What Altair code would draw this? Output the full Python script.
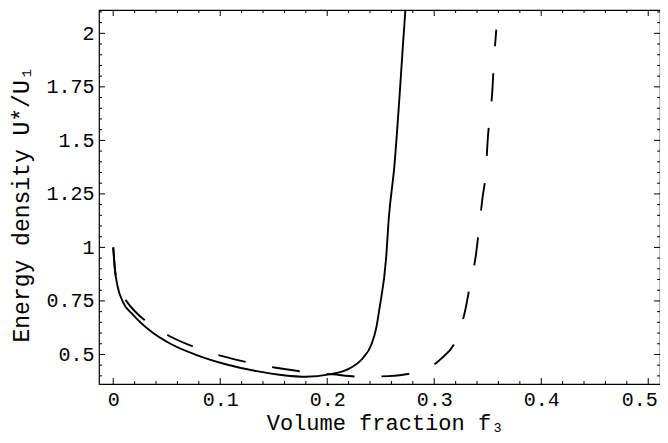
import altair as alt
import pandas as pd

# Solid curve (volume fraction f3, energy density U*/U1)
f_solid = [0.0, 0.0015, 0.004, 0.009, 0.019, 0.034, 0.053, 0.078, 0.106, 0.134,
           0.159, 0.180, 0.202, 0.221, 0.233, 0.241, 0.2457, 0.2488, 0.255, 0.2575,
           0.2628, 0.2674, 0.2705, 0.273, 0.2745]
u_solid = [1.0, 0.90, 0.82, 0.746, 0.683, 0.613, 0.551, 0.497, 0.453, 0.422,
           0.403, 0.396, 0.407, 0.435, 0.481, 0.543, 0.621, 0.714, 0.948, 1.134,
           1.383, 1.693, 1.927, 2.11, 2.25]

# Dashed curve
f_dash = [0.0, 0.002, 0.006, 0.0125, 0.0312, 0.0529, 0.0778, 0.102, 0.128, 0.152,
          0.179, 0.205, 0.232, 0.2575, 0.2836, 0.306, 0.322, 0.329, 0.334, 0.339,
          0.342, 0.345, 0.3483, 0.3498, 0.3545, 0.356, 0.358]
u_dash = [1.0, 0.88, 0.80, 0.748, 0.652, 0.585, 0.531, 0.492, 0.461, 0.438,
          0.419, 0.407, 0.396, 0.399, 0.419, 0.478, 0.587, 0.707, 0.839, 0.966,
          1.095, 1.227, 1.359, 1.488, 1.748, 1.883, 2.017]

x_major = [0.0, 0.1, 0.2, 0.3, 0.4, 0.5]
x_minor = [0.02, 0.04, 0.06, 0.08, 0.12, 0.14, 0.16, 0.18, 0.22, 0.24, 0.26, 0.28,
           0.32, 0.34, 0.36, 0.38, 0.42, 0.44, 0.46, 0.48]
y_major = [0.5, 0.75, 1.0, 1.25, 1.5, 1.75, 2.0]
y_minor = [0.4, 0.45, 0.55, 0.6, 0.65, 0.7, 0.8, 0.85, 0.9, 0.95, 1.05, 1.1, 1.15,
           1.2, 1.3, 1.35, 1.4, 1.45, 1.55, 1.6, 1.65, 1.7, 1.8, 1.85, 1.9, 1.95,
           2.05, 2.1]

W, H = 561, 374
FONT = "Liberation Mono"

xscale = alt.Scale(domain=[-0.0133, 0.511], nice=False, zero=False)
yscale = alt.Scale(domain=[0.362, 2.109], nice=False, zero=False)

xaxis = alt.Axis(values=x_major, format=".1~f", grid=False, domain=False, ticks=False,
                 labelFont=FONT, labelFontSize=20, labelColor="black", labelPadding=5,
                 labelFlush=12, labelFlushOffset=9, labelOverlap=False,
                 title="Volume fraction f₃", titleFont=FONT, titleFontSize=22,
                 titleFontWeight="normal", titleColor="black",
                 titleX=286, titleY=45, titleBaseline="alphabetic", titleAlign="center")
yaxis = alt.Axis(values=y_major, format=".2~f", grid=False, domain=False, ticks=False,
                 labelFont=FONT, labelFontSize=20, labelColor="black", labelPadding=5,
                 labelFlush=False, labelOverlap=False,
                 title="Energy density U*/U₁", titleFont=FONT, titleFontSize=23,
                 titleFontWeight="normal", titleColor="black",
                 titleAngle=270, titleX=-71, titleY=194, titleBaseline="alphabetic",
                 titleAlign="center")

solid_df = pd.DataFrame({"f": f_solid, "U": u_solid, "order": range(len(f_solid))})
dash_df = pd.DataFrame({"f": f_dash, "U": u_dash, "order": range(len(f_dash))})

X = alt.X("f:Q", scale=xscale, axis=xaxis)
Y = alt.Y("U:Q", scale=yscale, axis=yaxis)

solid = alt.Chart(solid_df).mark_line(color="black", strokeWidth=1.9, clip=True,
                                      interpolate="monotone").encode(x=X, y=Y, order="order:Q")
dashed = alt.Chart(dash_df).mark_line(color="black", strokeWidth=1.9, clip=True,
                                      interpolate="monotone", strokeDash=[28, 27]).encode(
    x=X, y=Y, order="order:Q")

layers = [solid, dashed]


def xticks(vals, length):
    df = pd.DataFrame({"f": vals})
    bottom = alt.Chart(df).mark_rule(color="black", strokeWidth=1).encode(
        x=X, y=alt.value(H), y2=alt.value(H - length))
    top = alt.Chart(df).mark_rule(color="black", strokeWidth=1).encode(
        x=X, y=alt.value(0), y2=alt.value(length))
    return [bottom, top]


def yticks(vals, length):
    df = pd.DataFrame({"U": vals})
    left = alt.Chart(df).mark_rule(color="black", strokeWidth=1).encode(
        y=Y, x=alt.value(0), x2=alt.value(length))
    right = alt.Chart(df).mark_rule(color="black", strokeWidth=1).encode(
        y=Y, x=alt.value(W), x2=alt.value(W - length))
    return [left, right]


layers += xticks(x_major, 6) + xticks(x_minor, 3) + yticks(y_major, 6) + yticks(y_minor, 3)

chart = alt.layer(*layers).properties(
    width=W, height=H,
    padding={"left": 91, "top": 2, "right": 0, "bottom": 51},
    autosize=alt.AutoSizeParams(type="none"),
    background="white",
).configure_view(stroke="black", strokeWidth=1.2)

chart.save("out.html", embed_options={"renderer": "svg", "actions": False})
